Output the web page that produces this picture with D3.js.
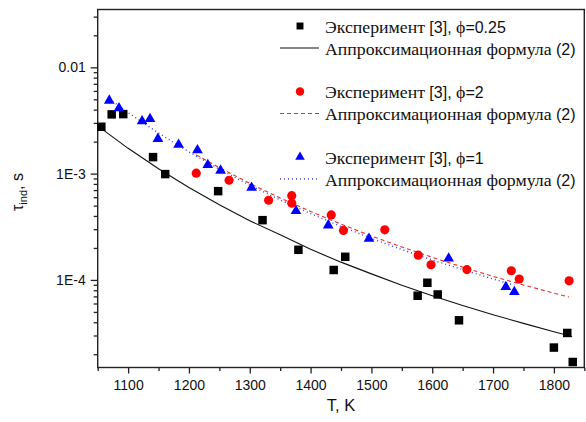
<!DOCTYPE html>
<html>
<head>
<meta charset="utf-8">
<script src="https://cdn.jsdelivr.net/npm/d3@7"></script>
<style>
  body { margin: 0; background: #fff; }
  svg { display: block; }
</style>
</head>
<body>
<svg id="chart"></svg>
<script>
// experimental points, phi = 0.25 (black squares)
const blackT   = [1056, 1073, 1092, 1141, 1161, 1248, 1321, 1380, 1438, 1457, 1576, 1592, 1609, 1644, 1800, 1822, 1831];
const blackTau = [2.76e-3, 3.61e-3, 3.63e-3, 1.43e-3, 0.99e-3, 6.84e-4, 3.65e-4, 1.92e-4, 1.24e-4, 1.65e-4, 7.1e-5, 9.4e-5, 7.3e-5, 4.17e-5, 2.31e-5, 3.17e-5, 1.69e-5];

// experimental points, phi = 2 (red circles)
const redT   = [1212, 1266, 1331, 1369, 1369, 1434, 1454, 1522, 1577, 1598, 1657, 1730, 1743, 1825];
const redTau = [1.01e-3, 8.67e-4, 5.62e-4, 6.2e-4, 5.27e-4, 4.09e-4, 2.92e-4, 2.96e-4, 1.71e-4, 1.39e-4, 1.25e-4, 1.22e-4, 1.02e-4, 9.8e-5];

// experimental points, phi = 1 (blue triangles)
const blueT   = [1069, 1085, 1123, 1136, 1149, 1183, 1214, 1231, 1252, 1303, 1376, 1429, 1496, 1627, 1721, 1735];
const blueTau = [4.92e-3, 4.17e-3, 3.15e-3, 3.31e-3, 2.15e-3, 1.89e-3, 1.68e-3, 1.22e-3, 1.08e-3, 7.45e-4, 4.5e-4, 3.3e-4, 2.47e-4, 1.61e-4, 8.7e-5, 7.8e-5];

// approximation formula (2)
const fitBlackT   = [1055, 1100, 1150, 1200, 1250, 1300, 1350, 1400, 1450, 1500, 1550, 1600, 1650, 1700, 1750, 1800, 1830];
const fitBlackTau = [2.68e-3, 1.73e-3, 1.11e-3, 7.4e-4, 5.09e-4, 3.6e-4, 2.66e-4, 1.94e-4, 1.47e-4, 1.14e-4, 8.9e-5, 7.1e-5, 5.75e-5, 4.71e-5, 3.9e-5, 3.26e-5, 2.94e-5];
const fitRedT   = [1212, 1250, 1300, 1350, 1400, 1450, 1500, 1550, 1600, 1650, 1700, 1750, 1800, 1825];
const fitRedTau = [1.5e-3, 1.14e-3, 8.1e-4, 5.9e-4, 4.41e-4, 3.35e-4, 2.59e-4, 2.04e-4, 1.63e-4, 1.32e-4, 1.08e-4, 8.97e-5, 7.5e-5, 6.9e-5];
const fitBlueT   = [1069, 1100, 1150, 1200, 1250, 1300, 1350, 1400, 1450, 1500, 1550, 1600, 1650, 1700, 1735];
const fitBlueTau = [5.05e-3, 3.75e-3, 2.41e-3, 1.6e-3, 1.1e-3, 7.8e-4, 5.66e-4, 4.21e-4, 3.19e-4, 2.46e-4, 1.93e-4, 1.54e-4, 1.25e-4, 1.02e-4, 8.93e-5];

// axes
const xMajor = [1100, 1200, 1300, 1400, 1500, 1600, 1700, 1800];
const xMinor = [1050, 1150, 1250, 1350, 1450, 1550, 1650, 1750, 1850];
const yMajor = [0.01, 1e-3, 1e-4];
const yMajorLabels = ['0.01', '1E-3', '1E-4'];
const yMinor = [2e-5, 3e-5, 4e-5, 5e-5, 6e-5, 7e-5, 8e-5, 9e-5,
  2e-4, 3e-4, 4e-4, 5e-4, 6e-4, 7e-4, 8e-4, 9e-4,
  2e-3, 3e-3, 4e-3, 5e-3, 6e-3, 7e-3, 8e-3, 9e-3, 0.02, 0.03];

const legendExp = ['ϕ=0.25', 'ϕ=2', 'ϕ=1'];
const legendFit = 'Аппроксимационная формула';

const width = 586, height = 422;
const plotLeft = 97.7, plotRight = 584.3, plotTop = 9.5, plotBottom = 367.5;
const sans = "'Liberation Sans', Arial, sans-serif";

// pick an installed serif face for the Cyrillic legend text
function installed(name) {
  const ctx = document.createElement('canvas').getContext('2d');
  const s = 'Аппроксимационная формула mmmwwlli';
  ctx.font = '40px monospace';
  const a = ctx.measureText(s).width;
  ctx.font = `40px '${name}', monospace`;
  return Math.abs(ctx.measureText(s).width - a) > 0.5;
}
const serifName = ['Liberation Serif', 'Times New Roman', 'DejaVu Serif', 'Noto Serif']
  .find(installed) || 'serif';
const serif = `'${serifName}', serif`;

const svg = d3.select('#chart')
  .attr('width', width)
  .attr('height', height)
  .attr('viewBox', [0, 0, width, height]);

const x = d3.scaleLinear([1050, 1850], [plotLeft, plotRight]);
const y = d3.scaleLog([1.5e-5, 0.035], [plotBottom, plotTop]);

// frame
svg.append('rect')
  .attr('x', plotLeft).attr('y', plotTop)
  .attr('width', plotRight - plotLeft).attr('height', plotBottom - plotTop)
  .attr('fill', 'none').attr('stroke', '#222').attr('stroke-width', 1.4);

// x axis
svg.append('g')
  .attr('transform', `translate(0,${plotBottom})`)
  .call(d3.axisBottom(x).tickValues(xMajor).tickSize(6).tickPadding(6.5).tickFormat(d3.format('d')))
  .call(g => g.select('.domain').remove())
  .call(g => g.selectAll('.tick line').attr('stroke', '#222').attr('stroke-width', 1.3))
  .call(g => g.selectAll('text').attr('font-family', sans).attr('font-size', 14).attr('fill', '#111'));
svg.append('g')
  .attr('transform', `translate(0,${plotBottom})`)
  .call(d3.axisBottom(x).tickValues(xMinor).tickSize(3.5).tickFormat(''))
  .call(g => g.select('.domain').remove())
  .call(g => g.selectAll('.tick line').attr('stroke', '#222').attr('stroke-width', 1.3));

// y axis
svg.append('g')
  .attr('transform', `translate(${plotLeft},0)`)
  .call(d3.axisLeft(y).tickValues(yMajor).tickSize(7).tickPadding(5).tickFormat((d, i) => yMajorLabels[i]))
  .call(g => g.select('.domain').remove())
  .call(g => g.selectAll('.tick line').attr('stroke', '#222').attr('stroke-width', 1.3))
  .call(g => g.selectAll('text').attr('font-family', sans).attr('font-size', 14).attr('fill', '#111'));
svg.append('g')
  .attr('transform', `translate(${plotLeft},0)`)
  .call(d3.axisLeft(y).tickValues(yMinor).tickSize(4).tickFormat(''))
  .call(g => g.select('.domain').remove())
  .call(g => g.selectAll('.tick line').attr('stroke', '#222').attr('stroke-width', 1.3));

// axis titles
svg.append('text')
  .attr('x', (plotLeft + plotRight) / 2).attr('y', 411)
  .attr('text-anchor', 'middle')
  .attr('font-family', sans).attr('font-size', 16.5).attr('fill', '#111')
  .text('T, K');

const yTitle = svg.append('text')
  .attr('transform', `translate(22.5,192) rotate(-90)`)
  .attr('text-anchor', 'middle')
  .attr('font-family', sans).attr('font-size', 16).attr('fill', '#111');
yTitle.append('tspan').text('τ');
yTitle.append('tspan').attr('font-size', 11).attr('dy', 4).text('ind');
yTitle.append('tspan').attr('dy', -4).text(', s');

// fit lines
const line = d3.line().x(d => x(d[0])).y(d => y(d[1]));
const fits = [
  {T: fitBlackT, tau: fitBlackTau, color: '#111', dash: null, w: 1.1},
  {T: fitRedT, tau: fitRedTau, color: '#e53030', dash: '4,3', w: 1.1},
  {T: fitBlueT, tau: fitBlueTau, color: '#3a3aee', dash: '1,3', w: 1.4}
];
svg.append('g')
  .attr('fill', 'none')
  .selectAll('path')
  .data(fits)
  .join('path')
    .attr('stroke', d => d.color)
    .attr('stroke-width', d => d.w)
    .attr('stroke-dasharray', d => d.dash)
    .attr('d', d => line(d3.zip(d.T, d.tau)));

// markers
const square = d3.symbol(d3.symbolSquare, 72);
const circle = d3.symbol(d3.symbolCircle, 66);
const triangle = d3.symbol(d3.symbolTriangle, 50);

svg.append('g')
  .selectAll('path')
  .data(d3.zip(blackT, blackTau))
  .join('path')
    .attr('transform', d => `translate(${x(d[0])},${y(d[1])})`)
    .attr('d', square)
    .attr('fill', '#000');

svg.append('g')
  .selectAll('path')
  .data(d3.zip(redT, redTau))
  .join('path')
    .attr('transform', d => `translate(${x(d[0])},${y(d[1])})`)
    .attr('d', circle)
    .attr('fill', '#ff0000');

svg.append('g')
  .selectAll('path')
  .data(d3.zip(blueT, blueTau))
  .join('path')
    .attr('transform', d => `translate(${x(d[0])},${y(d[1]) + 0.5})`)
    .attr('d', triangle)
    .attr('fill', '#0000ff');

// legend
const legendItems = [
  {sym: d3.symbol(d3.symbolSquare, 48), color: '#000', line: '#111', dash: null, w: 1.1},
  {sym: d3.symbol(d3.symbolCircle, 56), color: '#ff0000', line: '#e53030', dash: '4,3', w: 1.1},
  {sym: d3.symbol(d3.symbolTriangle, 40), color: '#0000ff', line: '#3a3aee', dash: '1,3', w: 1.4}
];
const legend = svg.append('g');
const serifTexts = [];
legendItems.forEach((it, i) => {
  const y0 = 26 + i * 65.5;
  legend.append('path')
    .attr('transform', `translate(300,${y0})`)
    .attr('d', it.sym).attr('fill', it.color);
  const t1 = legend.append('text')
    .attr('x', 325).attr('y', y0 + 6.5)
    .attr('fill', '#111');
  serifTexts.push(t1.append('tspan').attr('font-family', serif).text('Эксперимент '));
  t1.append('tspan').attr('font-family', sans).attr('font-size', 16).text('[3], ');
  serifTexts.push(t1.append('tspan').attr('font-family', serif).text(legendExp[i].slice(0, 1)));
  t1.append('tspan').attr('font-family', sans).attr('font-size', 16).text(legendExp[i].slice(1));

  legend.append('line')
    .attr('x1', 280).attr('x2', 319)
    .attr('y1', y0 + 22).attr('y2', y0 + 22)
    .attr('stroke', it.line).attr('stroke-width', it.w)
    .attr('stroke-dasharray', it.dash);
  const t2 = legend.append('text')
    .attr('x', 325).attr('y', y0 + 28.5)
    .attr('fill', '#111');
  serifTexts.push(t2.append('tspan').attr('font-family', serif).text(legendFit + ' '));
  t2.append('tspan').attr('font-family', sans).attr('font-size', 16).text('(2)');
});

// size the serif text so the long legend line spans about 252 px, as in the source
serifTexts.forEach(t => t.attr('font-size', 17));
const probe = serifTexts[2].node().getComputedTextLength();
const serifSize = Math.max(14, Math.min(20, 17 * 231 / probe));
serifTexts.forEach(t => t.attr('font-size', serifSize));
</script>
</body>
</html>
